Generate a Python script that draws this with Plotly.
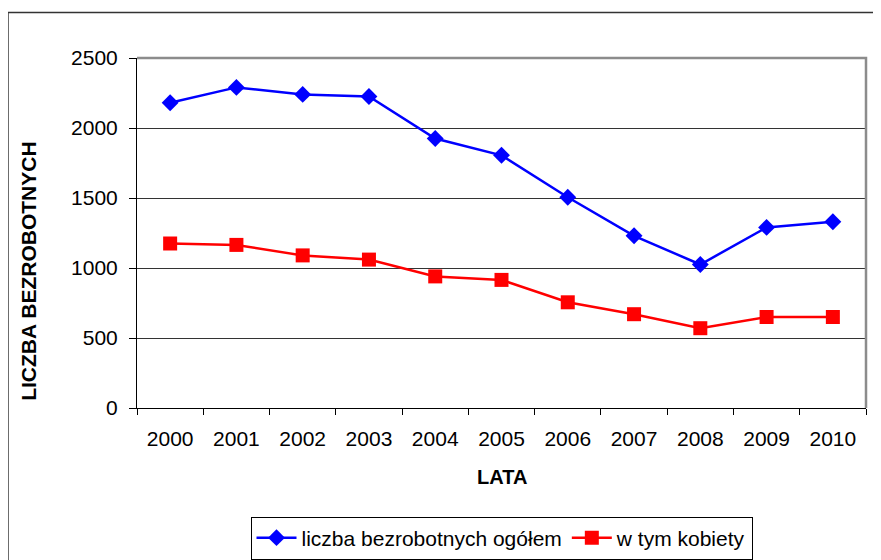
import plotly.graph_objects as go

FONT = "Liberation Sans, Arial, sans-serif"
GRID_COLOR = "#333333"
BORDER_COLOR = "#8c8c8c"

YEARS = ['2000', '2001', '2002', '2003', '2004', '2005',
         '2006', '2007', '2008', '2009', '2010']
TOTAL_UNEMPLOYED = [2180, 2290, 2240, 2225, 1925, 1805,
                    1505, 1230, 1025, 1290, 1330]
WOMEN_UNEMPLOYED = [1175, 1165, 1090, 1060, 940, 915,
                    755, 670, 570, 650, 650]
Y_TICKS = [0, 500, 1000, 1500, 2000, 2500]

fig = go.Figure()

fig.add_trace(
    go.Scatter(
        x=YEARS,
        y=TOTAL_UNEMPLOYED,
        mode='lines+markers',
        name='liczba bezrobotnych ogółem',
        line=dict(color='#0000ff', width=2.5),
        marker=dict(symbol='diamond', size=13, color='#0000ff'),
    )
)
fig.add_trace(
    go.Scatter(
        x=YEARS,
        y=WOMEN_UNEMPLOYED,
        mode='lines+markers',
        name='w tym kobiety',
        line=dict(color='#ff0000', width=2.5),
        marker=dict(symbol='square', size=14, color='#ff0000'),
    )
)

# page body adds an 8px offset, so the figure is 8px smaller than the window
fig.update_layout(
    width=873,
    height=552,
    margin=dict(l=129, r=15, t=50, b=152, autoexpand=False),
    plot_bgcolor='white',
    paper_bgcolor='white',
    font=dict(family=FONT, size=21, color='black'),
    showlegend=True,
    legend=dict(
        orientation='h',
        x=0.5, xanchor='center',
        y=-0.31, yanchor='top',
        bordercolor='black',
        borderwidth=1,
        font=dict(size=21),
        itemwidth=40,
    ),
    xaxis=dict(
        type='category',
        range=[-0.5, 10.5],
        automargin=False,
        showgrid=False,
        showline=True,
        linecolor='black',
        linewidth=1,
        ticks='outside',
        tickson='boundaries',
        ticklen=6,
        tickcolor='black',
        ticklabelstandoff=12,
        tickfont=dict(size=21),
    ),
    yaxis=dict(
        range=[0, 2500],
        tickvals=Y_TICKS,
        automargin=False,
        showgrid=True,
        gridcolor=GRID_COLOR,
        gridwidth=1,
        zeroline=False,
        showline=True,
        linecolor='black',
        linewidth=1,
        ticks='outside',
        ticklen=7,
        tickcolor='black',
        ticklabelstandoff=7,
        tickfont=dict(size=21),
    ),
    shapes=[
        # grey top / right border of the plot area
        dict(type='path', xref='paper', yref='paper',
             path='M 0,1 L 1,1 L 1,0',
             line=dict(color=BORDER_COLOR, width=2.5), layer='above'),
        # outer chart frame (runs off the right / bottom edge)
        dict(type='path', xref='paper', yref='paper',
             path='M -0.177,-0.5 L -0.177,1.13 L 1.05,1.13',
             line=dict(color='#333333', width=1.5), layer='above'),
    ],
    annotations=[
        dict(text='<b>LICZBA BEZROBOTNYCH</b>', xref='paper', yref='paper',
             x=-0.150, y=0.391, textangle=-90, showarrow=False,
             xanchor='center', yanchor='middle', font=dict(size=21)),
        dict(text='<b>LATA</b>', xref='paper', yref='paper',
             x=0.5, y=-0.196, showarrow=False,
             xanchor='center', yanchor='middle', font=dict(size=20)),
    ],
)

fig.write_html("out.html")
